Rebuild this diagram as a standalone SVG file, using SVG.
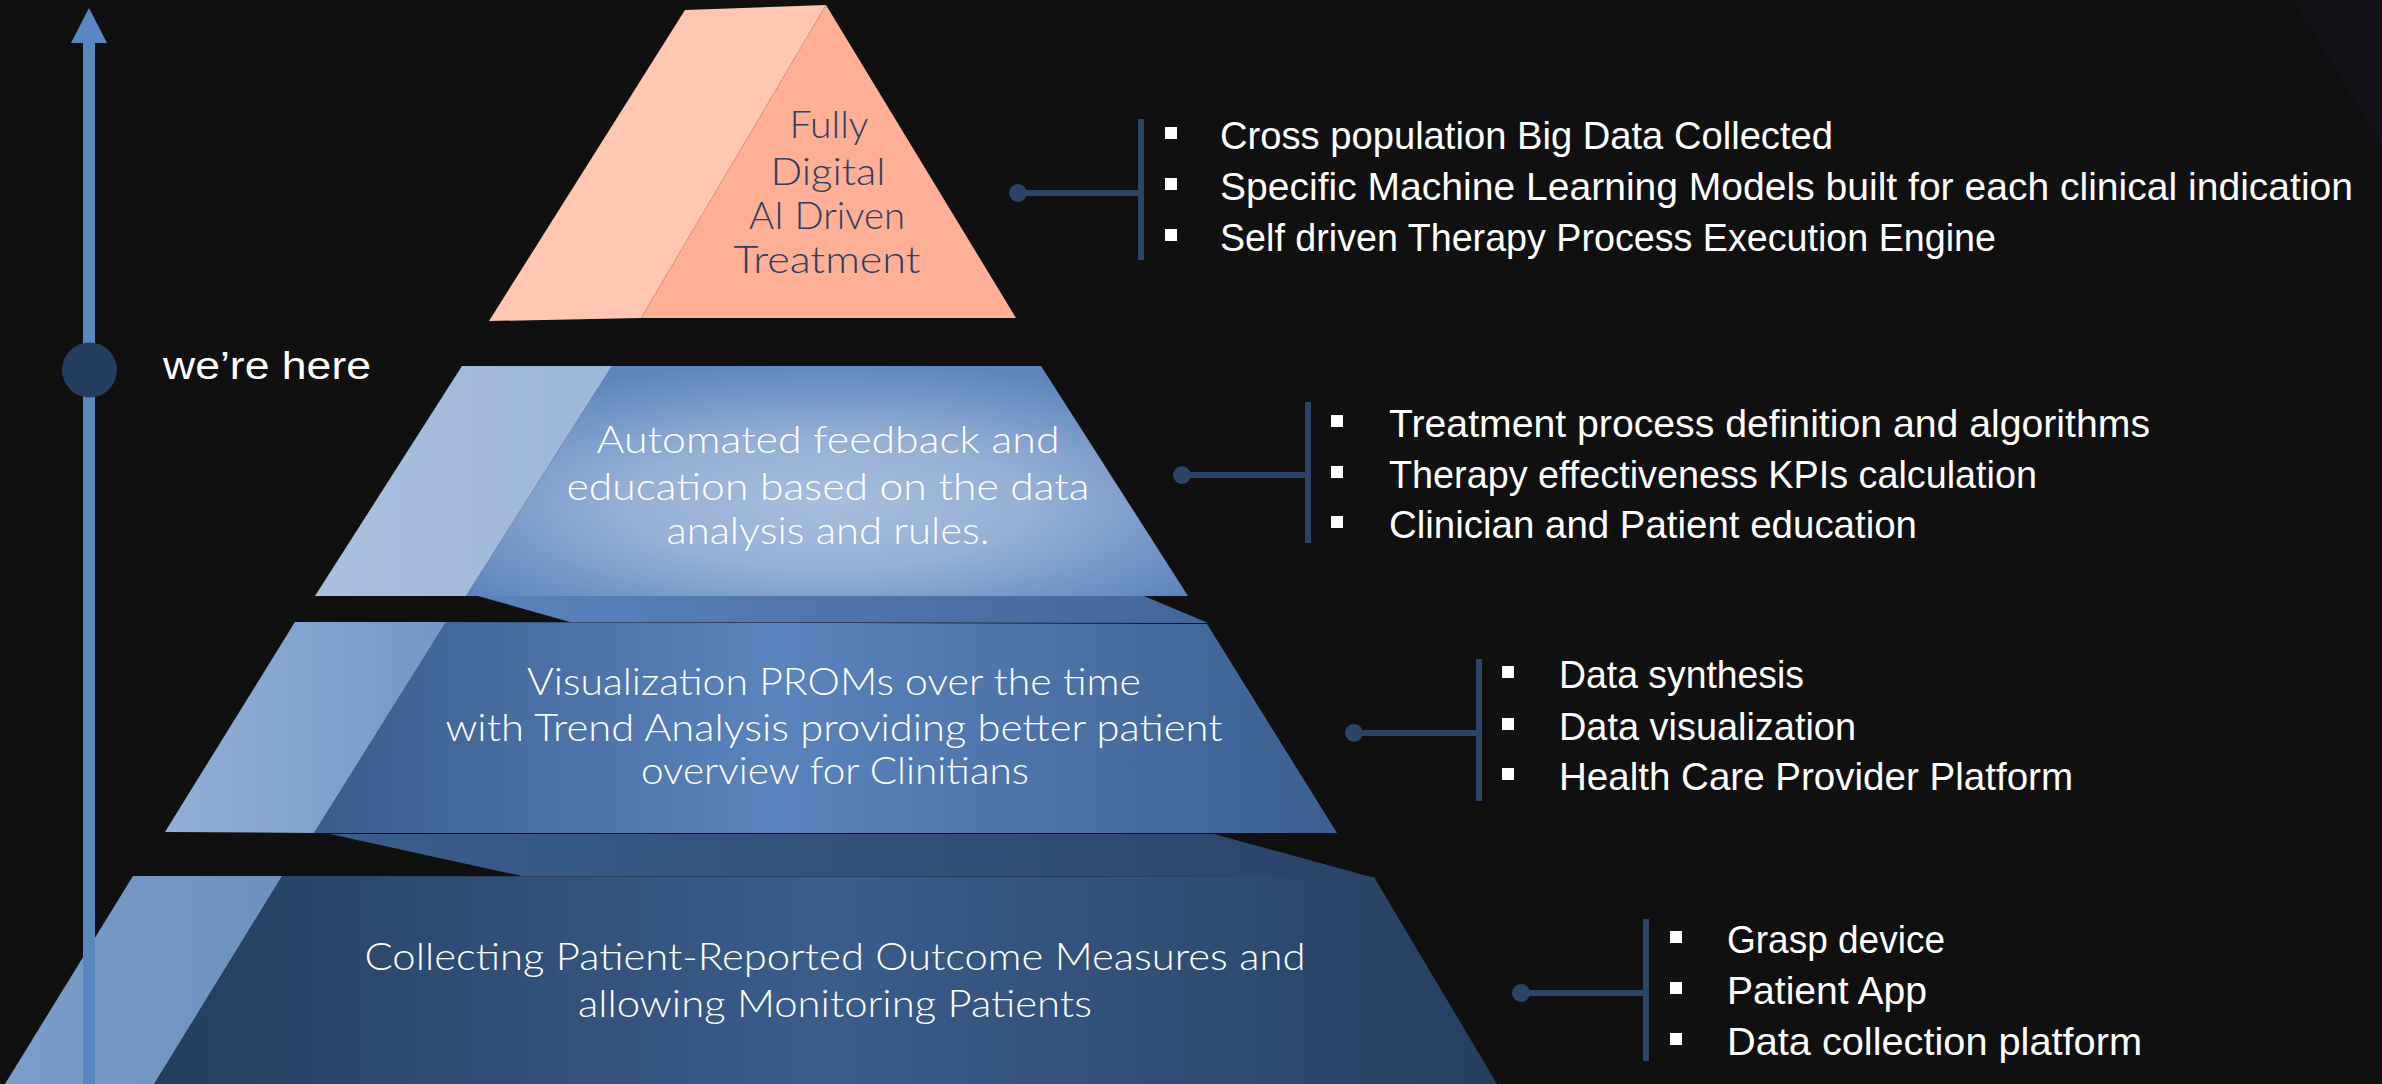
<svg xmlns="http://www.w3.org/2000/svg" width="2382" height="1084" viewBox="0 0 2382 1084">
<defs>
<style>
.lbl{font-family:Lato,"Liberation Sans",sans-serif;font-weight:300;font-size:37px;fill:#ffffff;text-anchor:middle}
.top{fill:#2C3F5F}
.bt{font-family:"Liberation Sans",Arial,sans-serif;font-size:39px;fill:#ffffff}
.bul{fill:#ffffff}
.con{stroke:#2B4468;stroke-width:6;fill:none}
.dot{fill:#2B4468}
</style>
<linearGradient id="t2l" x1="0" y1="0" x2="1" y2="0"><stop offset="0" stop-color="#AAC0DF"/><stop offset="1" stop-color="#9EB6D9"/></linearGradient>
<radialGradient id="t2m" cx="0.5" cy="0.6" r="0.62"><stop offset="0" stop-color="#A7BEDD"/><stop offset="0.45" stop-color="#96B0D6"/><stop offset="1" stop-color="#5E86BE"/></radialGradient>
<linearGradient id="s2" x1="0" y1="0" x2="1" y2="0"><stop offset="0" stop-color="#5B83BC"/><stop offset="1" stop-color="#43669A"/></linearGradient>
<linearGradient id="t3l" x1="0" y1="0" x2="1" y2="0"><stop offset="0" stop-color="#91AFD6"/><stop offset="1" stop-color="#7398C7"/></linearGradient>
<linearGradient id="t3m" x1="0" y1="0" x2="1" y2="0"><stop offset="0" stop-color="#395C8C"/><stop offset="0.45" stop-color="#5B83BD"/><stop offset="1" stop-color="#3B5F90"/></linearGradient>
<linearGradient id="s3" x1="0" y1="0" x2="1" y2="0"><stop offset="0" stop-color="#3A5E8D"/><stop offset="1" stop-color="#2B4468"/></linearGradient>
<linearGradient id="t4l" x1="0" y1="0" x2="1" y2="0"><stop offset="0" stop-color="#7A9DC9"/><stop offset="1" stop-color="#6D91C0"/></linearGradient>
<linearGradient id="t4m" x1="0" y1="0" x2="1" y2="0"><stop offset="0" stop-color="#253E5E"/><stop offset="0.5" stop-color="#3A5D8D"/><stop offset="1" stop-color="#263F5F"/></linearGradient>
</defs>
<rect x="0" y="0" width="2382" height="1084" fill="#101010"/>
<polygon points="2293,0 2382,0 2382,145" fill="#111319"/>

<g id="tier4">
<polygon points="282,876 1374,877 1497,1084 154,1084" fill="url(#t4m)"/>
<polygon points="133,876 282,876 154,1084 5,1084" fill="url(#t4l)"/>
<text class="lbl" x="835" y="970" textLength="941" lengthAdjust="spacingAndGlyphs">Collecting Patient-Reported Outcome Measures and</text>
<text class="lbl" x="835" y="1017" textLength="514" lengthAdjust="spacingAndGlyphs">allowing Monitoring Patients</text>
</g>
<g id="shelf3"><polygon points="330,834 1214,834 1371,877 522,876" fill="url(#s3)"/></g>
<g id="tier3">
<polygon points="446,622 1207,624 1337,833 314,833" fill="url(#t3m)"/>
<polygon points="295,622 446,622 314,833 165,832" fill="url(#t3l)"/>
<text class="lbl" x="834" y="695" textLength="614" lengthAdjust="spacingAndGlyphs">Visualization PROMs over the time</text>
<text class="lbl" x="834" y="741" textLength="777" lengthAdjust="spacingAndGlyphs">with Trend Analysis providing better patient</text>
<text class="lbl" x="835" y="784" textLength="388" lengthAdjust="spacingAndGlyphs">overview for Clinitians</text>
</g>
<g id="shelf2"><polygon points="478,596 1144,596 1208,623 570,622" fill="url(#s2)"/></g>
<g id="tier2">
<polygon points="612,366 1041,366 1188,596 466,596" fill="url(#t2m)"/>
<polygon points="462,366 612,366 466,596 315,596" fill="url(#t2l)"/>
<text class="lbl" x="828" y="453" textLength="463" lengthAdjust="spacingAndGlyphs">Automated feedback and</text>
<text class="lbl" x="828" y="500" textLength="523" lengthAdjust="spacingAndGlyphs">education based on the data</text>
<text class="lbl" x="828" y="544" textLength="323" lengthAdjust="spacingAndGlyphs">analysis and rules.</text>
</g>
<g id="tier1">
<polygon points="685,10 826,5 641,318 489,321" fill="#FFC7B2"/>
<polygon points="826,5 1016,318 641,318" fill="#FFAF95"/>
<text class="lbl top" x="829" y="138" textLength="79" lengthAdjust="spacingAndGlyphs">Fully</text>
<text class="lbl top" x="828" y="185" textLength="115" lengthAdjust="spacingAndGlyphs">Digital</text>
<text class="lbl top" x="827" y="229" textLength="156" lengthAdjust="spacingAndGlyphs">AI Driven</text>
<text class="lbl top" x="827" y="273" textLength="187" lengthAdjust="spacingAndGlyphs">Treatment</text>
</g>

<g id="progress-arrow">
<rect x="83" y="42" width="12" height="1042" fill="#5B87C1"/>
<polygon points="71,43 89,8 107,43" fill="#5B87C1"/>
</g>
<g id="we-are-here">
<circle cx="89.5" cy="370" r="27.5" fill="#253D5E"/>
<text class="bt" x="163" y="379" font-size="44" textLength="208" lengthAdjust="spacingAndGlyphs">we’re here</text>
</g>

<g id="connectors">
<line class="con" x1="1018" y1="193" x2="1141" y2="193"/><line class="con" x1="1141" y1="119" x2="1141" y2="260"/><circle class="dot" cx="1018" cy="193" r="9"/>
<line class="con" x1="1182" y1="475" x2="1308" y2="475"/><line class="con" x1="1308" y1="402" x2="1308" y2="543"/><circle class="dot" cx="1182" cy="475" r="9"/>
<line class="con" x1="1354" y1="733" x2="1479" y2="733"/><line class="con" x1="1479" y1="659" x2="1479" y2="801"/><circle class="dot" cx="1354" cy="733" r="9"/>
<line class="con" x1="1521" y1="993" x2="1646" y2="993"/><line class="con" x1="1646" y1="919" x2="1646" y2="1061"/><circle class="dot" cx="1521" cy="993" r="9"/>
</g>

<g id="list1">
<rect class="bul" x="1165" y="127" width="12" height="12"/><text class="bt" x="1220" y="149" textLength="613" lengthAdjust="spacingAndGlyphs">Cross population Big Data Collected</text>
<rect class="bul" x="1165" y="178" width="12" height="12"/><text class="bt" x="1220" y="200" textLength="1133" lengthAdjust="spacingAndGlyphs">Specific Machine Learning Models built for each clinical indication</text>
<rect class="bul" x="1165" y="229" width="12" height="12"/><text class="bt" x="1220" y="251" textLength="776" lengthAdjust="spacingAndGlyphs">Self driven Therapy Process Execution Engine</text>
</g>
<g id="list2">
<rect class="bul" x="1331" y="415" width="12" height="12"/><text class="bt" x="1389" y="437" textLength="761" lengthAdjust="spacingAndGlyphs">Treatment process definition and algorithms</text>
<rect class="bul" x="1331" y="466" width="12" height="12"/><text class="bt" x="1389" y="488" textLength="648" lengthAdjust="spacingAndGlyphs">Therapy effectiveness KPIs calculation</text>
<rect class="bul" x="1331" y="516" width="12" height="12"/><text class="bt" x="1389" y="538" textLength="528" lengthAdjust="spacingAndGlyphs">Clinician and Patient education</text>
</g>
<g id="list3">
<rect class="bul" x="1502" y="666" width="12" height="12"/><text class="bt" x="1559" y="688" textLength="245" lengthAdjust="spacingAndGlyphs">Data synthesis</text>
<rect class="bul" x="1502" y="718" width="12" height="12"/><text class="bt" x="1559" y="740" textLength="297" lengthAdjust="spacingAndGlyphs">Data visualization</text>
<rect class="bul" x="1502" y="768" width="12" height="12"/><text class="bt" x="1559" y="790" textLength="514" lengthAdjust="spacingAndGlyphs">Health Care Provider Platform</text>
</g>
<g id="list4">
<rect class="bul" x="1670" y="931" width="12" height="12"/><text class="bt" x="1727" y="953" textLength="218" lengthAdjust="spacingAndGlyphs">Grasp device</text>
<rect class="bul" x="1670" y="982" width="12" height="12"/><text class="bt" x="1727" y="1004" textLength="200" lengthAdjust="spacingAndGlyphs">Patient App</text>
<rect class="bul" x="1670" y="1033" width="12" height="12"/><text class="bt" x="1727" y="1055" textLength="415" lengthAdjust="spacingAndGlyphs">Data collection platform</text>
</g>
</svg>
